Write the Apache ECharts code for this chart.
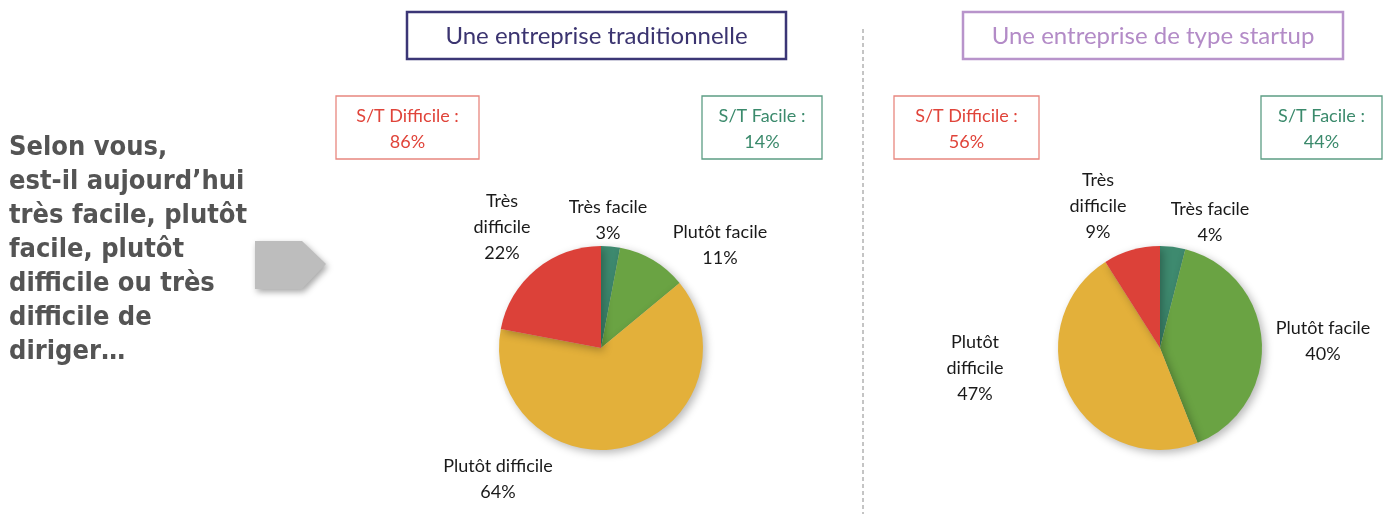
<!DOCTYPE html>
<html>
<head>
<meta charset="utf-8">
<script src="https://cdn.jsdelivr.net/npm/echarts@6/dist/echarts.min.js"></script>
<style>
html,body{margin:0;padding:0;background:#fff;}
#chart{width:1392px;height:514px;}
</style>
</head>
<body>
<div id="chart"></div>
<script>
// ---- Data ----
const categories = ['Très facile', 'Plutôt facile', 'Plutôt difficile', 'Très difficile'];
const traditionalValues = [3, 11, 64, 22];
const startupValues = [4, 40, 47, 9];
const panelTitles = ['Une entreprise traditionnelle', 'Une entreprise de type startup'];
const questionText = ['Selon vous,', 'est-il aujourd\u2019hui', 'très facile, plutôt', 'facile, plutôt', 'difficile ou très', 'difficile de', 'diriger\u2026'];
const summaryLabels = ['S/T Difficile :', 'S/T Facile :'];

// Label text line breaks per pie (content only)
const labelNames = [
  ['Très facile', 'Plutôt facile', 'Plutôt difficile', 'Très\ndifficile'],
  ['Très facile', 'Plutôt facile', 'Plutôt\ndifficile', 'Très\ndifficile']
];

// ---- Layout (positions/styles) ----
const colors = ['#3e8a6f', '#6aa343', '#e3b03a', '#dc4139'];
const pieCenters = [[601, 348], [1160, 348]];
const pieRadius = 102;
const labelPos = [
  [[608, 220], [720, 245], [498, 479], [502, 227]],
  [[1210, 222], [1323, 341], [975, 368], [1098, 206]]
];
const titleBoxes = [
  {x: 407, y: 12, w: 379, h: 47, stroke: '#3b3676', color: '#3b3470'},
  {x: 963, y: 12, w: 380, h: 47, stroke: '#b894cb', color: '#b38bc7'}
];
const sumBoxes = [
  [{x: 336, y: 96, w: 143, h: 63}, {x: 702, y: 96, w: 120, h: 63}],
  [{x: 894, y: 96, w: 145, h: 63}, {x: 1261, y: 96, w: 121, h: 63}]
];
const sumColors = [{stroke: '#e8877f', text: '#e0443a'}, {stroke: '#5c9d84', text: '#3b8a6c'}];
const FONT = 'Lato, "Open Sans", sans-serif';

const allValues = [traditionalValues, startupValues];

function sumOf(arr, idx) { return idx.reduce((s, i) => s + arr[i], 0); }

const series = allValues.map((vals, p) => ({
  type: 'pie',
  center: pieCenters[p],
  radius: pieRadius,
  startAngle: 90,
  clockwise: true,
  silent: true,
  animation: false,
  data: categories.map((c, i) => ({name: c, value: vals[i], itemStyle: {color: colors[i]}})),
  itemStyle: {
    shadowBlur: 8, shadowOffsetX: 3, shadowOffsetY: 3, shadowColor: 'rgba(0,0,0,0.28)'
  },
  label: {
    show: true,
    position: 'outside',
    overflow: 'none',
    formatter: (prm) => labelNames[p][prm.dataIndex] + '\n' + prm.value + '%',
    fontFamily: FONT,
    fontSize: 18,
    lineHeight: 26,
    color: '#1a1a1a',
    align: 'center'
  },
  labelLine: {show: false},
  labelLayout: (prm) => ({
    x: labelPos[p][prm.dataIndex][0],
    y: labelPos[p][prm.dataIndex][1],
    align: 'center',
    verticalAlign: 'middle',
    width: 200
  })
}));

const graphics = [];
// Divider
graphics.push({
  type: 'line', silent: true,
  shape: {x1: 863, y1: 29, x2: 863, y2: 514},
  style: {stroke: '#8a8a8a', lineWidth: 1, lineDash: [4, 3]}
});
// Title boxes
titleBoxes.forEach((b, i) => {
  graphics.push({
    type: 'rect', silent: true,
    shape: {x: b.x, y: b.y, width: b.w, height: b.h},
    style: {fill: '#fff', stroke: b.stroke, lineWidth: 2.5}
  });
  graphics.push({
    type: 'text', silent: true,
    style: {
      text: panelTitles[i], x: b.x + b.w / 2, y: b.y + b.h / 2 + 1,
      textAlign: 'center', textVerticalAlign: 'middle',
      font: '24px ' + FONT, fill: b.color
    }
  });
});
// Summary boxes
sumBoxes.forEach((pair, p) => {
  const vals = allValues[p];
  const totals = [sumOf(vals, [2, 3]), sumOf(vals, [0, 1])];
  pair.forEach((b, k) => {
    graphics.push({
      type: 'rect', silent: true,
      shape: {x: b.x, y: b.y, width: b.w, height: b.h},
      style: {fill: '#fff', stroke: sumColors[k].stroke, lineWidth: 1.3}
    });
    graphics.push({
      type: 'text', silent: true,
      style: {
        text: summaryLabels[k] + '\n' + totals[k] + '%',
        x: b.x + b.w / 2, y: b.y + b.h / 2 + 2,
        textAlign: 'center', textVerticalAlign: 'middle',
        font: '18px ' + FONT, lineHeight: 26, fill: sumColors[k].text
      }
    });
  });
});
// Arrow shape (with shadow)
graphics.push({
  type: 'polygon', silent: true,
  shape: {points: [[255, 241], [302, 241], [326, 264], [302, 289], [255, 289]]},
  style: {fill: '#bdbdbd', shadowBlur: 6, shadowOffsetX: 2, shadowOffsetY: 3, shadowColor: 'rgba(0,0,0,0.35)'}
});
// Question text
graphics.push({
  type: 'text', silent: true,
  x: 9, y: 131, scaleX: 0.9, originX: 0, originY: 0,
  style: {
    text: questionText.join('\n'), x: 0, y: 0,
    textAlign: 'left', textVerticalAlign: 'top',
    font: 'bold 27px "DejaVu Sans", sans-serif', lineHeight: 34, fill: '#545454'
  }
});

const chart = echarts.init(document.getElementById('chart'), null, {renderer: 'canvas'});
chart.setOption({
  backgroundColor: '#ffffff',
  animation: false,
  series: series,
  graphic: {elements: graphics}
});
</script>
</body>
</html>
